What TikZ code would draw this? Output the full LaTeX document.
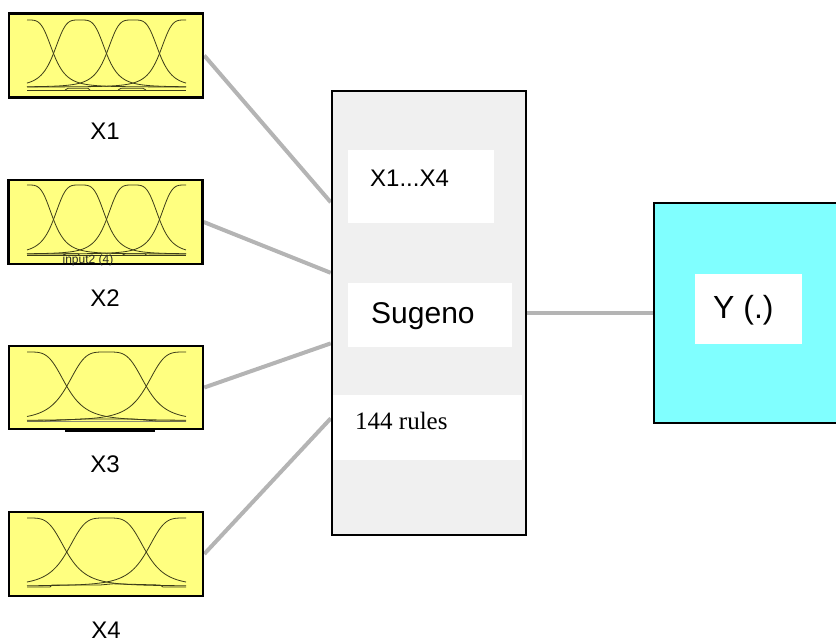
\documentclass[tikz,border=0pt]{standalone}
\usepackage{fontspec}
\setmainfont{Liberation Sans}
\newfontfamily\timesfont{Liberation Serif}
\usetikzlibrary{calc,backgrounds}

\definecolor{mfyellow}{RGB}{255,255,128}
\definecolor{outcyan}{RGB}{128,255,255}
\definecolor{fisgray}{RGB}{240,240,240}
\definecolor{wiregray}{RGB}{180,180,180}
\definecolor{curvecol}{RGB}{60,60,25}

% n generalized-bell membership functions spread evenly over [left,right]
% #1 left, #2 right, #3 y of mu=1, #4 y of mu=0, #5 number of functions
\newcommand\bellcurves[5]{%
  \pgfmathsetmacro\mfstep{(#2-#1)/(#5-1)}%
  \pgfmathsetmacro\mfa{\mfstep/2}%
  \pgfmathtruncatemacro\mflast{#5-1}%
  \foreach \k in {0,...,\mflast}{%
    \pgfmathsetmacro\mfc{#1+\k*\mfstep}%
    \draw[mfline] plot[domain=#1:#2,samples=90]
      (\x,{#4-(#4-#3)/(1+(((\x-\mfc)/\mfa)*((\x-\mfc)/\mfa))^2)});
  }%
}

\begin{document}
\begin{tikzpicture}[x=1pt,y=-1pt,
  inbox/.style={draw=black,line width=2.5pt,fill=mfyellow,minimum width=194pt,minimum height=84pt,inner sep=0pt},
  fisbox/.style={draw=black,line width=2.5pt,fill=fisgray,minimum width=194pt,minimum height=444pt,inner sep=0pt},
  outbox/.style={draw=black,line width=2.5pt,fill=outcyan,minimum width=186pt,minimum height=220pt,inner sep=0pt},
  whitepad/.style={fill=white,inner sep=0pt},
  mfline/.style={curvecol,line width=0.8pt},
  mfbase/.style={curvecol,line width=0.8pt},
  wire/.style={wiregray,line width=4pt},
  lbl/.style={inner sep=0pt,font=\fontsize{24}{28}\selectfont},
]
\useasboundingbox (0,0) rectangle (836,643);
\clip (0,0) rectangle (836,643);

% input blocks
\node[inbox] (x1box) at (106,55.5) {};
\node[inbox] (x2box) at (105.5,222) {};
\node[inbox,minimum height=83pt] (x3box) at (106,387.5) {};
\node[inbox] (x4box) at (106,554) {};

% rule block
\node[fisbox] (mid) at (429,313) {};
\fill[whitepad] (348,150) rectangle (494,223);
\fill[whitepad] (348,283) rectangle (512,347);
\fill[whitepad] (333,395) rectangle (522,460);
\node[lbl,anchor=base west] (rng) at (370,186.5) {X1...X4};
\node[anchor=base west,inner sep=0pt,font=\fontsize{30}{34}\selectfont] (meth) at (371,323) {Sugeno};
\node[anchor=base west,inner sep=0pt,font=\timesfont\fontsize{25}{29}\selectfont] (nrules) at (355,429) {144 rules};

% output block
\node[outbox] (ybox) at (747,313) {};
\fill[whitepad] (695,274) rectangle (802,344);
\node[anchor=base west,inner sep=0pt,font=\fontsize{32}{36}\selectfont] (ylab) at (713,318) {Y (.)};

% labels under the inputs
\node[lbl,anchor=base] (l1) at (105,139) {X1};
\node[lbl,anchor=base] (l2) at (105,306) {X2};
\node[lbl,anchor=base] (l3) at (105,472) {X3};
\node[lbl,anchor=base] (l4) at (106,638.5) {X4};

% membership functions
\bellcurves{27}{186}{20}{87}{4}
\draw[mfbase] (27,90) -- (186,90);
\draw[mfbase] (65,90) -- (68,88.3) -- (88,88.3) -- (90,90);
\draw[mfbase] (118,90) -- (121,88.3) -- (143,88.3) -- (146,90);

\bellcurves{27}{186}{185}{254}{4}
\draw[mfbase] (27,255.5) -- (186,255.5);
\draw[mfbase] (63,255.5) -- (66,253.8) -- (78,253.8) -- (80,255.5);
\draw[mfbase] (122,255.5) -- (125,253.8) -- (145,253.8) -- (147,255.5);
\node[inner sep=0pt,text=black!85,font=\fontsize{12}{13}\selectfont] (mfname) at (88,260.5) {input2 (4)};

\bellcurves{27}{186}{352}{420.5}{3}
\draw[mfbase,curvecol!60] (27,421.5) -- (186,421.5);
\draw[mfbase] (27,421) -- (43,421) -- (83,419) -- (133,419) -- (157,421) -- (186,421);
\draw[line width=2pt] (65,430.5) -- (155,430.5);

\bellcurves{27}{186}{518}{586}{3}
\draw[mfbase] (27,587) -- (50,587) -- (52,585) -- (100,585) -- (113,583.8) -- (160,585) -- (163,587) -- (186,587);

% connectors
\coordinate (m1) at ($(mid.north west)!0.252!(mid.south west)$);
\coordinate (m2) at ($(mid.north west)!0.410!(mid.south west)$);
\coordinate (m3) at ($(mid.north west)!0.568!(mid.south west)$);
\coordinate (m4) at ($(mid.north west)!0.736!(mid.south west)$);
\begin{pgfonlayer}{background}
\draw[wire] (x1box.east) -- (m1);
\draw[wire] (x2box.east) -- (m2);
\draw[wire] (x3box.east) -- (m3);
\draw[wire] (x4box.east) -- (m4);
\draw[wire] (mid.east) -- (ybox.west);
\end{pgfonlayer}
\end{tikzpicture}
\end{document}
